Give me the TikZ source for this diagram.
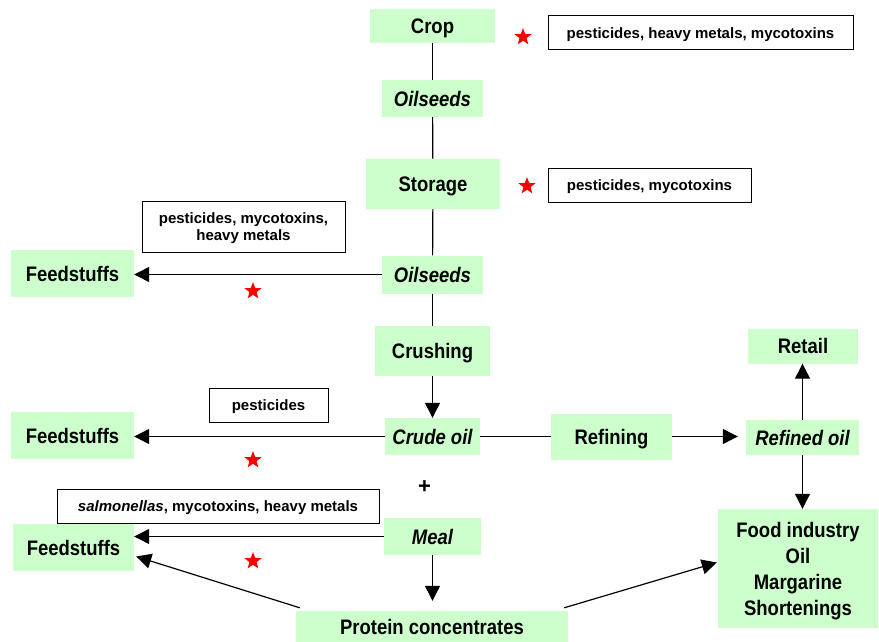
\documentclass[tikz,border=0pt]{standalone}
\usepackage{fontspec}
\setmainfont{Liberation Sans}
\newfontfamily\headfont{Liberation Sans}[FakeStretch=0.88]
\usetikzlibrary{arrows.meta,shapes.geometric}
\definecolor{boxgreen}{HTML}{CCFFCC}
\tikzset{
  stage/.style={fill=boxgreen, inner sep=0pt, align=center, text depth=0pt, font=\headfont\fontsize{21}{26}\selectfont\bfseries},
  product/.style={stage, font=\headfont\fontsize{21}{26}\selectfont\bfseries\itshape},
  hazard/.style={draw, line width=1pt, inner sep=0pt, align=center, text depth=0pt, font=\fontsize{15}{17}\selectfont\bfseries},
  flag/.style={star, star points=5, star point ratio=2.4, fill=red, inner sep=0pt, minimum size=18pt},
  flow/.style={-{Triangle[length=15pt,width=15pt]}, line width=1.2pt},
  link/.style={line width=1.2pt}
}
\begin{document}
\begin{tikzpicture}[x=1pt,y=-1pt]
\useasboundingbox (0,0) rectangle (879,642);
% main chain
\node[stage, minimum width=125, minimum height=34] (crop) at (432.5,26) {Crop};
\node[product, minimum width=101, minimum height=37] (seeds1) at (432.5,98.5) {Oilseeds};
\node[stage, minimum width=134, minimum height=50] (storage) at (433,184) {Storage};
\node[product, minimum width=101, minimum height=38] (seeds2) at (432.5,274.5) {Oilseeds};
\node[stage, minimum width=115, minimum height=50] (crushing) at (432.5,351) {Crushing};
\node[product, minimum width=95, minimum height=37] (crude) at (432.5,436.5) {Crude oil};
\node[product, minimum width=97, minimum height=37] (meal) at (432.5,536.5) {Meal};
\node[stage, minimum width=272, minimum height=31] (protein) at (432,626.5) {Protein concentrates};
\node[font=\fontsize{22}{22}\selectfont\bfseries] (plus) at (424.5,487) {+};
% oil side
\node[stage, minimum width=121, minimum height=46] (refining) at (611.5,436.5) {Refining};
\node[product, minimum width=113, minimum height=35] (refined) at (802.5,437.5) {Refined oil};
\node[stage, minimum width=110, minimum height=35] (retail) at (803,346) {Retail};
\node[stage, minimum width=160, minimum height=119] (food) at (798,568.5) {Food industry\\Oil\\Margarine\\Shortenings};
% feedstuffs
\node[stage, minimum width=123, minimum height=47] (feed1) at (72.5,273.5) {Feedstuffs};
\node[stage, minimum width=123, minimum height=47] (feed2) at (72.5,435.5) {Feedstuffs};
\node[stage, minimum width=121, minimum height=47] (feed3) at (73.5,547.5) {Feedstuffs};
% contaminants
\node[hazard, minimum width=305, minimum height=34] (haz1) at (700.5,33) {pesticides, heavy metals, mycotoxins};
\node[hazard, minimum width=203, minimum height=34] (haz2) at (649.5,185) {pesticides, mycotoxins};
\node[hazard, minimum width=203, minimum height=51] (haz3) at (243.5,227) {pesticides, mycotoxins,\\heavy metals};
\node[hazard, minimum width=119, minimum height=34] (haz4) at (268.5,405) {pesticides};
\node[hazard, minimum width=322, minimum height=34] (haz5) at (218,506.5) {\textit{salmonellas}, mycotoxins, heavy metals};
\foreach \n/\x/\y in {1/523/37, 2/527/186, 3/253/291, 4/253/460, 5/253/561}
  \node[flag] (star\n) at (\x,\y) {};
% connectors
\foreach \a/\b in {crop/seeds1, seeds1/storage, storage/seeds2, seeds2/crushing}
  \draw[link] (\a) -- (\b);
\draw[flow] (crushing) -- (crude);
\draw[flow] (seeds2.west) -- (seeds2.west -| feed1.east);
\draw[flow] (crude.west) -- (crude.west -| feed2.east);
\draw[link] (crude.east) -- (crude.east -| refining.west);
\draw[flow, shorten >=8pt] (refining.east) -- (refining.east -| refined.west);
\draw[flow] (refined.north) -- (refined.north |- retail.south);
\draw[flow] (refined.south) -- (refined.south |- food.north);
\draw[flow] (meal.west) -- (meal.west -| feed3.east);
\draw[flow, shorten >=10pt] (meal.south) -- (meal.south |- protein.north);
\draw[flow] ([xshift=4pt,yshift=3pt]protein.north west) -- ([xshift=2pt,yshift=-9pt]feed3.east);
\draw[flow] ([xshift=-4pt,yshift=3pt]protein.north east) -- ([xshift=-1pt,yshift=6pt]food.west);
\end{tikzpicture}
\end{document}
